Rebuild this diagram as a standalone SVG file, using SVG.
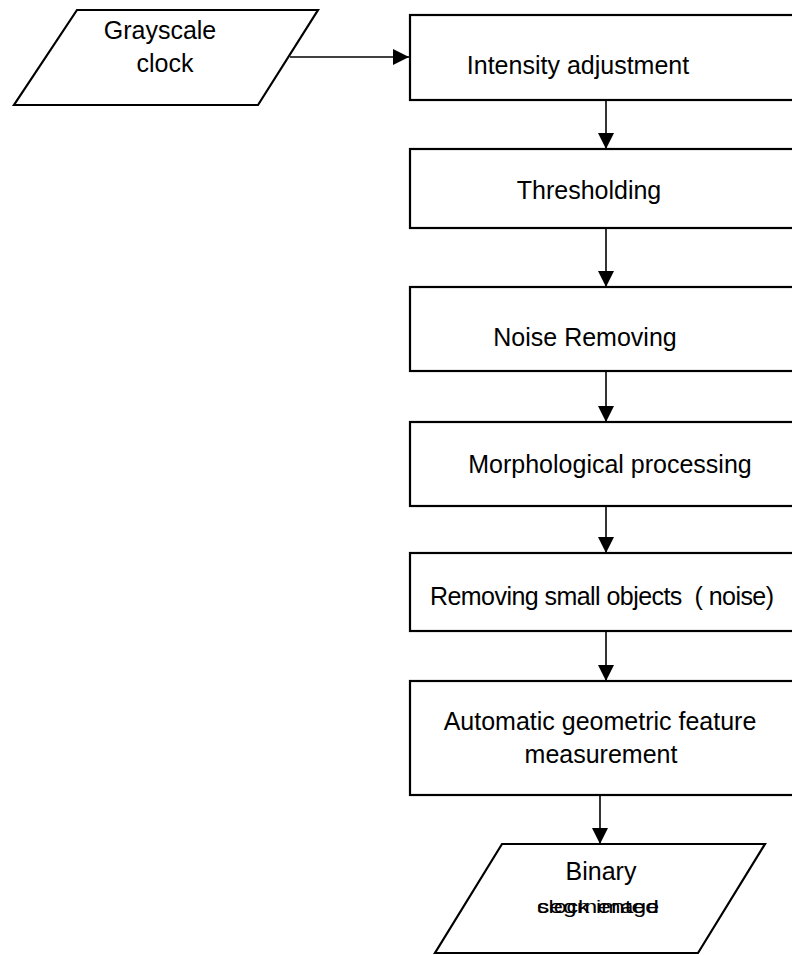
<svg xmlns="http://www.w3.org/2000/svg" width="792" height="955" viewBox="0 0 792 955">
<defs>
<marker id="ah" viewBox="0 0 16 16" refX="16" refY="8" markerWidth="16" markerHeight="16" markerUnits="userSpaceOnUse" orient="auto">
<path d="M0,0 L16,8 L0,16 Z" fill="#000"/>
</marker>
<style>
.n{fill:#fff;stroke:#000;stroke-width:2.2}
.t{font-family:"Liberation Sans",Arial,sans-serif;font-size:25px;fill:#000;text-anchor:middle}
.c{stroke:#000;stroke-width:1.6;fill:none;marker-end:url(#ah)}
</style>
</defs>
<rect width="792" height="955" fill="#fff"/>
<g id="connectors">
<line class="c" x1="290" y1="57" x2="409" y2="57"/>
<line class="c" x1="606" y1="100" x2="606" y2="149"/>
<line class="c" x1="606" y1="228" x2="606" y2="287"/>
<line class="c" x1="606" y1="371" x2="606" y2="422"/>
<line class="c" x1="606" y1="506" x2="606" y2="553"/>
<line class="c" x1="606" y1="631" x2="606" y2="681"/>
<line class="c" x1="600" y1="795" x2="600" y2="844"/>
</g>
<g id="grayscale">
<polygon class="n" points="77,10 318,10 258,105 14,105"/>
<text class="t" x="160" y="39">Grayscale</text>
<text class="t" x="165" y="72">clock</text>
</g>
<g id="intensity">
<rect class="n" x="410" y="15" width="400" height="85"/>
<text class="t" x="578" y="74">Intensity adjustment</text>
</g>
<g id="thresholding">
<rect class="n" x="410" y="149" width="400" height="79"/>
<text class="t" x="589" y="199">Thresholding</text>
</g>
<g id="noise">
<rect class="n" x="410" y="287" width="400" height="84"/>
<text class="t" x="585" y="346">Noise Removing</text>
</g>
<g id="morph">
<rect class="n" x="410" y="422" width="400" height="84"/>
<text class="t" x="610" y="473">Morphological processing</text>
</g>
<g id="smallobj">
<rect class="n" x="410" y="553" width="400" height="78"/>
<text class="t" x="602" y="605" xml:space="preserve" textLength="344">Removing small objects  ( noise)</text>
</g>
<g id="feature">
<rect class="n" x="410" y="681" width="400" height="114"/>
<text class="t" x="600" y="730">Automatic geometric feature</text>
<text class="t" x="601" y="763">measurement</text>
</g>
<g id="binary">
<polygon class="n" points="502,844 765,844 698,953 435,953"/>
<text class="t" x="601" y="880">Binary</text>
<text class="t" x="598" y="913" style="font-size:19px" textLength="122" lengthAdjust="spacingAndGlyphs">segmented</text>
<text class="t" x="598" y="913" style="font-size:19px" textLength="122" lengthAdjust="spacingAndGlyphs">clock image</text>
</g>
</svg>
